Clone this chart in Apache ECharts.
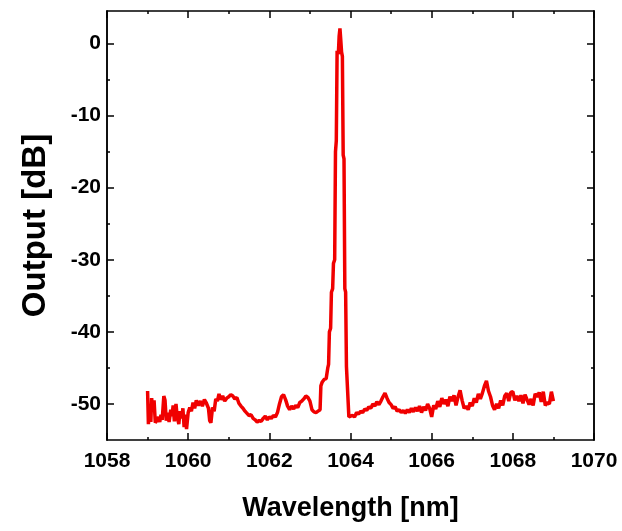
<!DOCTYPE html>
<html>
<head>
<meta charset="utf-8">
<script src="https://cdn.jsdelivr.net/npm/echarts@6/dist/echarts.min.js"></script>
<style>html,body{margin:0;padding:0;background:#fff}#c{width:622px;height:531px}</style>
</head>
<body>
<div id="c"></div>
<script>
const wavelength = [
1059.00,1059.02,1059.05,1059.08,1059.10,1059.13,1059.16,1059.19,1059.23,1059.27,1059.30,1059.33,1059.36,1059.40,1059.43,1059.46,1059.50,1059.53,1059.57,1059.60,1059.63,1059.66,1059.70,1059.73,1059.77,1059.80,1059.84,1059.87,1059.90,1059.93,1059.96,
1060.00,1060.04,1060.08,1060.12,1060.16,1060.20,1060.25,1060.30,1060.35,1060.40,1060.45,1060.50,1060.53,1060.56,1060.60,1060.64,1060.68,1060.72,1060.76,1060.80,1060.85,1060.90,1060.95,
1061.00,1061.05,1061.10,1061.15,1061.20,1061.25,1061.30,1061.35,1061.40,1061.45,1061.50,1061.55,1061.60,1061.65,1061.70,1061.75,1061.80,1061.85,1061.90,1061.95,
1062.00,1062.05,1062.10,1062.15,1062.20,1062.25,1062.30,1062.35,1062.40,1062.45,1062.50,1062.55,1062.60,1062.65,1062.70,1062.75,1062.80,1062.85,1062.90,1062.95,
1063.00,1063.05,1063.10,1063.15,1063.20,1063.25,1063.27,1063.30,1063.35,1063.40,1063.44,1063.46,1063.48,1063.51,1063.53,1063.56,1063.58,1063.61,1063.63,1063.65,1063.67,1063.70,1063.72,1063.74,1063.76,1063.78,1063.80,1063.82,1063.84,1063.86,1063.88,1063.90,1063.93,1063.96,
1064.00,1064.05,1064.10,1064.15,1064.20,1064.25,1064.30,1064.35,1064.40,1064.45,1064.50,1064.55,1064.60,1064.65,1064.70,1064.75,1064.80,1064.85,1064.90,1064.95,
1065.00,1065.05,1065.10,1065.15,1065.20,1065.25,1065.30,1065.35,1065.40,1065.45,1065.50,1065.55,1065.60,1065.65,1065.70,1065.75,1065.80,1065.85,1065.90,1065.95,
1066.00,1066.05,1066.10,1066.15,1066.20,1066.25,1066.30,1066.35,1066.40,1066.45,1066.50,1066.55,1066.60,1066.65,1066.70,1066.75,1066.80,1066.85,1066.90,1066.95,
1067.00,1067.05,1067.10,1067.15,1067.20,1067.25,1067.30,1067.35,1067.40,1067.45,1067.50,1067.55,1067.60,1067.65,1067.70,1067.75,1067.80,1067.85,1067.90,1067.95,
1068.00,1068.05,1068.10,1068.15,1068.20,1068.25,1068.30,1068.35,1068.40,1068.45,1068.50,1068.55,1068.60,1068.65,1068.70,1068.75,1068.80,1068.85,1068.90,1068.95,
1069.00
];
const outputDb = [
-48.2,-52.8,-50.5,-52.5,-49.2,-51.0,-49.5,-52.6,-52.3,-51.8,-52.5,-51.5,-52.2,-48.9,-49.5,-52.3,-51.2,-52.5,-50.8,-51.7,-50.2,-52.4,-50.0,-51.8,-52.8,-51.0,-52.0,-50.6,-53.2,-51.5,-53.5,
-51.2,-50.5,-51.0,-49.8,-50.6,-49.5,-50.2,-49.6,-50.3,-49.4,-49.9,-50.6,-52.3,-52.6,-50.5,-51.0,-49.3,-49.6,-48.6,-49.4,-48.9,-49.6,-49.2,
-49.0,-48.7,-48.9,-49.3,-49.1,-49.9,-50.3,-50.6,-51.0,-51.3,-51.6,-51.5,-52.0,-52.2,-52.5,-52.3,-52.4,-52.0,-51.7,-52.2,
-51.8,-52.0,-51.6,-51.8,-51.2,-50.0,-49.0,-48.7,-49.4,-50.3,-50.8,-50.3,-50.7,-50.2,-50.5,-49.8,-49.6,-49.3,-48.9,-49.1,
-49.6,-50.8,-51.1,-51.2,-51.0,-50.8,-47.5,-47.0,-46.6,-46.5,-45.0,-44.5,-40.0,-39.5,-34.5,-34.0,-30.5,-30.0,-15.0,-13.5,-1.0,-1.5,1.0,2.1,0.5,-1.2,-1.8,-15.5,-16.0,-34.0,-34.5,-44.8,-45.0,-51.8,
-52.0,-51.6,-51.8,-51.2,-51.4,-51.0,-51.2,-50.7,-50.9,-50.4,-50.6,-50.0,-50.3,-49.7,-50.1,-49.6,-49.0,-48.5,-49.2,-49.8,
-50.1,-50.6,-50.4,-51.0,-50.8,-51.2,-50.9,-51.3,-50.8,-51.2,-50.6,-51.1,-50.5,-51.0,-50.3,-51.2,-50.4,-50.9,-50.0,-50.6,
-51.8,-50.2,-50.7,-49.6,-50.4,-49.2,-50.0,-49.4,-50.3,-49.0,-49.6,-48.8,-50.2,-49.0,-48.1,-49.5,-50.6,-50.3,-50.8,-49.8,
-50.3,-49.2,-49.8,-48.6,-49.3,-48.5,-47.5,-46.8,-48.2,-49.0,-50.2,-50.8,-50.0,-50.6,-49.5,-50.2,-48.9,-48.5,-49.6,-48.4,
-48.3,-49.5,-48.9,-49.6,-48.8,-49.9,-48.7,-49.4,-50.1,-49.3,-50.2,-48.6,-49.0,-48.4,-49.7,-48.3,-50.2,-49.8,-50.0,-48.3,
-49.6
];
const yMajorTicks = [-50, -40, -30, -20, -10, 0];
const yMinorTicks = [-45, -35, -25, -15, -5];
const xMin = 1058, xMax = 1070, xStep = 2;
const yMin = -55, yMax = 4.5;

const font = "'Liberation Sans', Arial, sans-serif";
const lineStyle = { color: '#000', width: 1.5 };
const points = wavelength.map((w, i) => [w, outputDb[i]]);

function yAx(pos, ticks, len, labels, name) {
  return {
    type: 'value', position: pos, min: yMin, max: yMax,
    axisLine: { show: true, onZero: false, lineStyle },
    axisTick: { show: true, inside: true, length: len, customValues: ticks, lineStyle: { color: '#000', width: 1.5 } },
    axisLabel: labels ? { show: true, customValues: ticks, color: '#000', fontFamily: font, fontWeight: 'bold', fontSize: 21, margin: 6 } : { show: false },
    splitLine: { show: false },
    name: name || '', nameLocation: 'middle', nameGap: 55,
    nameTextStyle: { color: '#000', fontFamily: font, fontWeight: 'bold', fontSize: 33 }
  };
}
function xAx(pos, labels, name) {
  return {
    type: 'value', position: pos, min: xMin, max: xMax, interval: xStep,
    axisLine: { show: true, onZero: false, lineStyle },
    axisTick: { show: true, inside: true, length: 7, lineStyle: { color: '#000', width: 1.5 } },
    minorTick: { show: true, splitNumber: 2, length: 3, lineStyle: { color: '#000', width: 1.5 } },
    axisLabel: labels ? { show: true, color: '#000', fontFamily: font, fontWeight: 'bold', fontSize: 21, margin: 11, formatter: v => String(v) } : { show: false },
    splitLine: { show: false }, minorSplitLine: { show: false },
    name: name || '', nameLocation: 'middle', nameGap: 55,
    nameTextStyle: { color: '#000', fontFamily: font, fontWeight: 'bold', fontSize: 27 }
  };
}

const chart = echarts.init(document.getElementById('c'), null, { renderer: 'canvas' });
chart.setOption({
  animation: false,
  backgroundColor: '#fff',
  grid: { left: 107, right: 28, top: 11, bottom: 91 },
  xAxis: [xAx('bottom', true, 'Wavelength [nm]'), xAx('top', false)],
  yAxis: [
    yAx('left', yMajorTicks, 7, true, 'Output [dB]'),
    yAx('left', yMinorTicks, 3, false),
    yAx('right', yMajorTicks, 7, false),
    yAx('right', yMinorTicks, 3, false)
  ],
  series: [{
    type: 'line', xAxisIndex: 0, yAxisIndex: 0,
    data: points, showSymbol: false, symbol: 'none',
    lineStyle: { color: '#f00000', width: 3.5 }
  }]
});
</script>
</body>
</html>
